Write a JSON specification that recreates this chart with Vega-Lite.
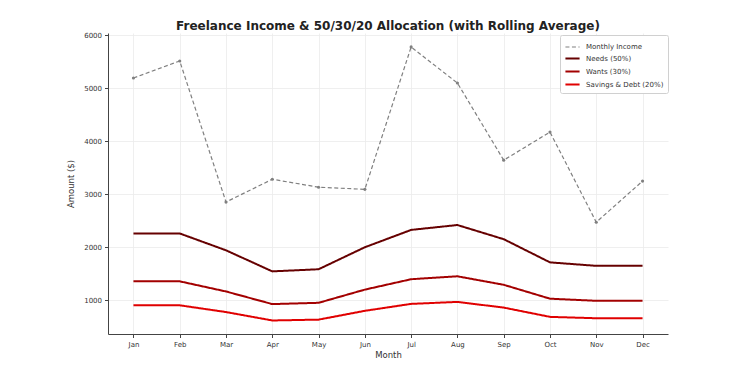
{
  "$schema": "https://vega.github.io/schema/vega-lite/v6.json",
  "width": 560,
  "height": 301,
  "autosize": {"type": "none"},
  "padding": {"left": 108, "top": 33, "right": 82, "bottom": 41},
  "background": "white",
  "title": {"text": "Freelance Income & 50/30/20 Allocation (with Rolling Average)", "font": "DejaVu Sans", "fontSize": 12, "fontWeight": "bold", "color": "#222222", "anchor": "middle", "offset": 3, "dy": 5},
  "config": {
    "font": "DejaVu Sans",
    "view": {"stroke": null},
    "axis": {"labelFont": "DejaVu Sans", "titleFont": "DejaVu Sans", "labelFontSize": 7, "titleFontSize": 8.5, "titleFontWeight": "normal", "labelColor": "#333333", "titleColor": "#333333", "gridColor": "#ebebeb", "gridWidth": 0.8, "domainColor": "#444444", "domainWidth": 1, "tickColor": "#444444", "tickSize": 3.5}
  },
  "data": {"values": [
    {"month": "Jan", "series": "Monthly Income", "value": 5190},
    {"month": "Feb", "series": "Monthly Income", "value": 5510},
    {"month": "Mar", "series": "Monthly Income", "value": 2850},
    {"month": "Apr", "series": "Monthly Income", "value": 3280},
    {"month": "May", "series": "Monthly Income", "value": 3130},
    {"month": "Jun", "series": "Monthly Income", "value": 3090},
    {"month": "Jul", "series": "Monthly Income", "value": 5775},
    {"month": "Aug", "series": "Monthly Income", "value": 5095},
    {"month": "Sep", "series": "Monthly Income", "value": 3640},
    {"month": "Oct", "series": "Monthly Income", "value": 4170},
    {"month": "Nov", "series": "Monthly Income", "value": 2470},
    {"month": "Dec", "series": "Monthly Income", "value": 3245},
    {"month": "Jan", "series": "Needs (50%)", "value": 2258},
    {"month": "Feb", "series": "Needs (50%)", "value": 2258},
    {"month": "Mar", "series": "Needs (50%)", "value": 1940},
    {"month": "Apr", "series": "Needs (50%)", "value": 1543},
    {"month": "May", "series": "Needs (50%)", "value": 1583},
    {"month": "Jun", "series": "Needs (50%)", "value": 1998},
    {"month": "Jul", "series": "Needs (50%)", "value": 2325},
    {"month": "Aug", "series": "Needs (50%)", "value": 2417},
    {"month": "Sep", "series": "Needs (50%)", "value": 2150},
    {"month": "Oct", "series": "Needs (50%)", "value": 1713},
    {"month": "Nov", "series": "Needs (50%)", "value": 1647},
    {"month": "Dec", "series": "Needs (50%)", "value": 1647},
    {"month": "Jan", "series": "Wants (30%)", "value": 1355},
    {"month": "Feb", "series": "Wants (30%)", "value": 1355},
    {"month": "Mar", "series": "Wants (30%)", "value": 1164},
    {"month": "Apr", "series": "Wants (30%)", "value": 926},
    {"month": "May", "series": "Wants (30%)", "value": 950},
    {"month": "Jun", "series": "Wants (30%)", "value": 1199},
    {"month": "Jul", "series": "Wants (30%)", "value": 1395},
    {"month": "Aug", "series": "Wants (30%)", "value": 1450},
    {"month": "Sep", "series": "Wants (30%)", "value": 1290},
    {"month": "Oct", "series": "Wants (30%)", "value": 1028},
    {"month": "Nov", "series": "Wants (30%)", "value": 988},
    {"month": "Dec", "series": "Wants (30%)", "value": 988},
    {"month": "Jan", "series": "Savings & Debt (20%)", "value": 903},
    {"month": "Feb", "series": "Savings & Debt (20%)", "value": 903},
    {"month": "Mar", "series": "Savings & Debt (20%)", "value": 776},
    {"month": "Apr", "series": "Savings & Debt (20%)", "value": 617},
    {"month": "May", "series": "Savings & Debt (20%)", "value": 633},
    {"month": "Jun", "series": "Savings & Debt (20%)", "value": 799},
    {"month": "Jul", "series": "Savings & Debt (20%)", "value": 930},
    {"month": "Aug", "series": "Savings & Debt (20%)", "value": 967},
    {"month": "Sep", "series": "Savings & Debt (20%)", "value": 860},
    {"month": "Oct", "series": "Savings & Debt (20%)", "value": 685},
    {"month": "Nov", "series": "Savings & Debt (20%)", "value": 659},
    {"month": "Dec", "series": "Savings & Debt (20%)", "value": 659}
  ]},
  "encoding": {
    "x": {"field": "month", "type": "ordinal", "sort": ["Jan","Feb","Mar","Apr","May","Jun","Jul","Aug","Sep","Oct","Nov","Dec"], "scale": {"type": "point", "padding": 0.55}, "axis": {"title": "Month", "labelAngle": 0, "grid": true, "titlePadding": 3, "labelPadding": 3}},
    "y": {"field": "value", "type": "quantitative", "scale": {"domain": [362, 6038], "nice": false, "zero": false}, "axis": {"title": "Amount ($)", "values": [1000,2000,3000,4000,5000,6000], "format": "d", "grid": true, "titlePadding": 8, "labelPadding": 3}}
  },
  "layer": [
    {
      "mark": {"type": "line"},
      "encoding": {
        "color": {"field": "series", "type": "nominal", "scale": {"domain": ["Monthly Income","Needs (50%)","Wants (30%)","Savings & Debt (20%)"], "range": ["#808080","#660000","#a30000","#e00000"]}, "legend": {"title": null, "orient": "none", "legendX": 452, "legendY": 2, "symbolType": "stroke", "symbolStrokeWidth": 2, "symbolSize": 200, "labelFontSize": 7, "labelColor": "#333333", "labelFont": "DejaVu Sans", "strokeColor": "#d0d0d0", "fillColor": "white", "padding": 4, "rowPadding": -4, "labelOffset": 5, "cornerRadius": 2}},
        "strokeDash": {"field": "series", "type": "nominal", "scale": {"domain": ["Monthly Income","Needs (50%)","Wants (30%)","Savings & Debt (20%)"], "range": [[4,2.5],[1,0],[1,0],[1,0]]}, "legend": {"title": null, "orient": "none", "legendX": 452, "legendY": 2, "symbolType": "stroke", "symbolStrokeWidth": 2, "symbolSize": 200, "labelFontSize": 7, "labelColor": "#333333", "labelFont": "DejaVu Sans", "strokeColor": "#d0d0d0", "fillColor": "white", "padding": 4, "rowPadding": -4, "labelOffset": 5, "cornerRadius": 2}},
        "strokeWidth": {"field": "series", "type": "nominal", "scale": {"type": "ordinal", "domain": ["Monthly Income","Needs (50%)","Wants (30%)","Savings & Debt (20%)"], "range": [1.2, 2, 2, 2]}, "legend": null}
      }
    },
    {
      "transform": [{"filter": "datum.series === 'Monthly Income'"}],
      "mark": {"type": "point", "filled": true, "size": 10, "color": "#808080", "opacity": 1}
    }
  ]
}
